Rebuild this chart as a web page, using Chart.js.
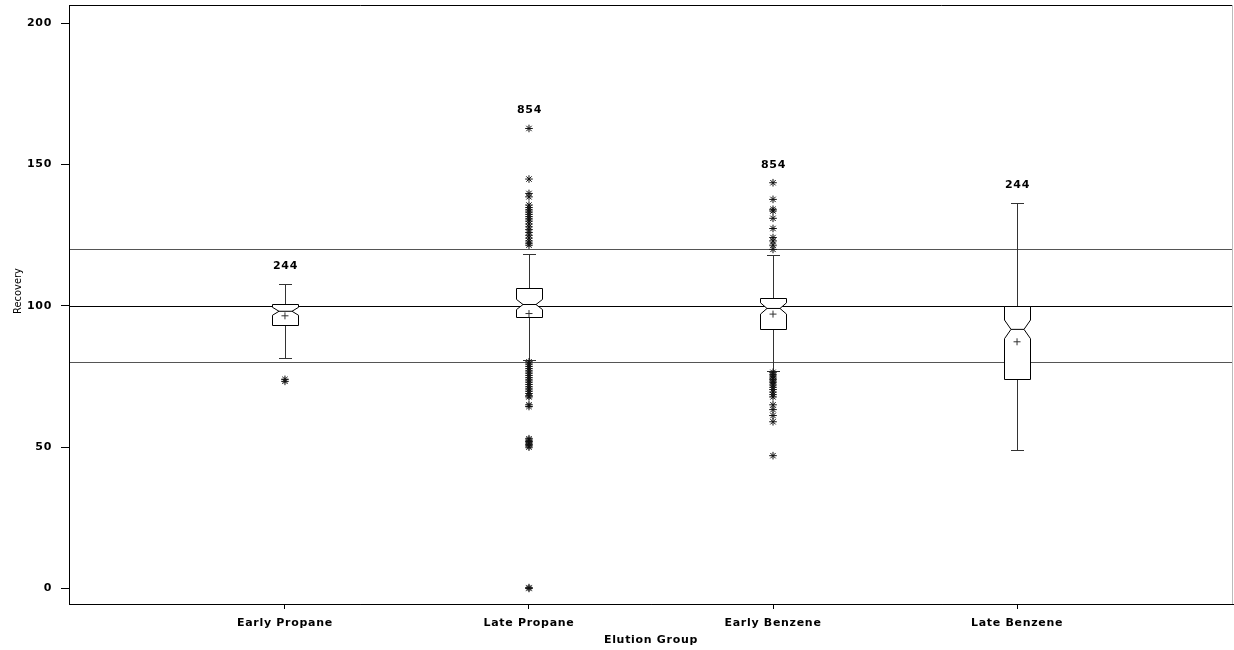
<!DOCTYPE html>
<html>
<head>
<meta charset="utf-8">
<script src="https://cdn.jsdelivr.net/npm/chart.js@4/dist/chart.umd.min.js"></script>
<style>
  html, body { margin: 0; padding: 0; background: #fff; }
  #wrap { width: 1234px; height: 650px; }
</style>
</head>
<body>
<div id="wrap"><canvas id="c" width="1234" height="650"></canvas></div>
<script>
// ---- data ----
const categories = ['Early Propane', 'Late Propane', 'Early Benzene', 'Late Benzene'];
const whiskerLow  = [81.7, 80.8, 76.8, 49.0];
const q1          = [93.1, 95.9, 92.0, 74.3];
const median      = [98.1, 100.5, 99.1, 91.7];
const q3          = [100.6, 106.2, 102.7, 100.0];
const whiskerHigh = [107.7, 118.3, 118.0, 136.3];
const notchHalf   = [1.4, 1.8, 2.0, 3.3];
const means       = [96.5, 97.3, 97.1, 87.3];
const countLabels = ['244', '854', '854', '244'];
const refLines    = [80, 100, 120];
const yTicks      = [0, 50, 100, 150, 200];

const outliersEarlyPropane = [73.3, 74.0];
const outliersLatePropane = [
  162.8, 144.9, 139.8, 138.6, 135.7, 134.8, 134.0, 133.2, 132.4, 131.6, 130.8, 130.0,
  129.0, 128.0, 127.0, 126.0, 125.0, 124.0, 123.0, 122.2, 121.5,
  80.2, 79.4, 78.6, 77.8, 77.0, 76.2, 75.4, 74.6, 73.8, 73.0, 72.2, 71.4, 70.6, 69.8,
  69.0, 68.2, 67.8, 65.0, 64.4,
  53.0, 52.5, 52.0, 51.5, 51.0, 50.5, 50.0, 0.3, 0.0
];
const outliersEarlyBenzene = [
  143.6, 137.7, 134.2, 133.6, 131.0, 127.4, 124.2, 123.0, 121.5, 120.0,
  76.5, 75.8, 75.2, 74.5, 74.0, 73.4, 72.8, 72.0, 71.2, 70.4, 69.5, 68.6, 67.8,
  65.0, 63.3, 61.2, 59.0, 47.0
];
const outliersLateBenzene = [];
const outlierGroups = [outliersEarlyPropane, outliersLatePropane, outliersEarlyBenzene, outliersLateBenzene];

// ---- build datasets ----
const outlierPoints = [];
outlierGroups.forEach((g, i) => g.forEach(v => outlierPoints.push({ x: i + 1, y: v })));
const meanPoints = means.map((v, i) => ({ x: i + 1, y: v }));

const FONT = '"DejaVu Sans", sans-serif';

const boxPlugin = {
  id: 'boxPlugin',
  beforeDraw(chart) {
    chart.ctx.letterSpacing = '0.7px';
  },
  beforeDatasetsDraw(chart) {
    const { ctx, chartArea: a, scales: { x, y } } = chart;
    ctx.save();
    ctx.letterSpacing = '0px';
    // reference lines
    refLines.forEach(v => {
      const py = Math.round(y.getPixelForValue(v)) + 0.5;
      ctx.beginPath();
      ctx.strokeStyle = v === 100 ? '#000' : '#555';
      ctx.lineWidth = 1;
      ctx.moveTo(a.left, py);
      ctx.lineTo(a.right, py);
      ctx.stroke();
    });
    // boxes
    const hw = 13, inset = 6.5, cap = 6.5;
    categories.forEach((c, i) => {
      const cx = Math.round(x.getPixelForValue(i + 1)) + 0.5;
      const yq1 = Math.round(y.getPixelForValue(q1[i])) + 0.5;
      const yq3 = Math.round(y.getPixelForValue(q3[i])) + 0.5;
      const ym = y.getPixelForValue(median[i]);
      const ynt = y.getPixelForValue(median[i] + notchHalf[i]);
      const ynb = y.getPixelForValue(median[i] - notchHalf[i]);
      const ylo = Math.round(y.getPixelForValue(whiskerLow[i])) + 0.5;
      const yhi = Math.round(y.getPixelForValue(whiskerHigh[i])) + 0.5;
      ctx.strokeStyle = '#333';
      ctx.lineWidth = 1;
      // whiskers
      ctx.beginPath();
      ctx.moveTo(cx, yq3); ctx.lineTo(cx, yhi);
      ctx.moveTo(cx - cap, yhi); ctx.lineTo(cx + cap, yhi);
      ctx.moveTo(cx, yq1); ctx.lineTo(cx, ylo);
      ctx.moveTo(cx - cap, ylo); ctx.lineTo(cx + cap, ylo);
      ctx.stroke();
      // notched box
      ctx.strokeStyle = '#000';
      ctx.fillStyle = '#fff';
      ctx.beginPath();
      ctx.moveTo(cx - hw, yq3);
      ctx.lineTo(cx + hw, yq3);
      ctx.lineTo(cx + hw, ynt);
      ctx.lineTo(cx + hw - inset, ym);
      ctx.lineTo(cx + hw, ynb);
      ctx.lineTo(cx + hw, yq1);
      ctx.lineTo(cx - hw, yq1);
      ctx.lineTo(cx - hw, ynb);
      ctx.lineTo(cx - hw + inset, ym);
      ctx.lineTo(cx - hw, ynt);
      ctx.closePath();
      ctx.fill();
      ctx.stroke();
      // median
      ctx.beginPath();
      ctx.moveTo(cx - hw + inset, ym);
      ctx.lineTo(cx + hw - inset, ym);
      ctx.stroke();
      // count label above highest mark
      const top = Math.max(whiskerHigh[i], ...outlierGroups[i]);
      const ly = y.getPixelForValue(top) - 18;
      ctx.letterSpacing = '0.7px';
      ctx.fillStyle = '#000';
      ctx.font = 'bold 11px ' + FONT;
      ctx.textAlign = 'center';
      ctx.textBaseline = 'middle';
      ctx.fillText(countLabels[i], cx, ly);
      ctx.letterSpacing = '0px';
    });
    ctx.restore();
  },
  afterDraw(chart) {
    const { ctx, chartArea: a } = chart;
    ctx.save();
    ctx.letterSpacing = '0px';
    // frame
    ctx.strokeStyle = '#000';
    ctx.lineWidth = 1;
    ctx.beginPath();
    ctx.moveTo(a.left + 0.5, a.bottom + 0.5);
    ctx.lineTo(a.left + 0.5, a.top + 0.5);
    ctx.lineTo(a.right - 0.5, a.top + 0.5);
    ctx.moveTo(a.left + 0.5, a.bottom + 0.5);
    ctx.lineTo(a.right, a.bottom + 0.5);
    ctx.stroke();
    ctx.strokeStyle = '#bbb';
    ctx.beginPath();
    ctx.moveTo(a.right - 0.5, a.top);
    ctx.lineTo(a.right - 0.5, a.bottom);
    ctx.stroke();
    // y title
    ctx.translate(18, 291);
    ctx.rotate(-Math.PI / 2);
    ctx.fillStyle = '#000';
    ctx.font = '11px "Liberation Sans Narrow", "DejaVu Sans Condensed", sans-serif';
    ctx.textAlign = 'center';
    ctx.textBaseline = 'middle';
    ctx.fillText('Recovery', 0, 0);
    ctx.restore();
  }
};

new Chart(document.getElementById('c'), {
  type: 'scatter',
  data: {
    datasets: [
      {
        label: 'outliers',
        data: outlierPoints,
        pointStyle: 'star',
        radius: 3.8,
        borderColor: '#111',
        borderWidth: 1,
        backgroundColor: '#111'
      },
      {
        label: 'means',
        data: meanPoints,
        pointStyle: 'cross',
        radius: 3.5,
        borderColor: '#333',
        borderWidth: 1
      }
    ]
  },
  options: {
    responsive: false,
    animation: false,
    devicePixelRatio: 1,
    layout: { autoPadding: false, padding: { top: 5, right: 1, left: 0, bottom: 0 } },
    plugins: { legend: { display: false }, tooltip: { enabled: false } },
    scales: {
      x: {
        type: 'linear',
        min: 0.115,
        max: 4.885,
        afterBuildTicks: s => { s.ticks = categories.map((c, i) => ({ value: i + 1 })); },
        afterFit: s => { s.height = 46; s.paddingLeft = 0; s.paddingRight = 0; },
        ticks: {
          callback: v => categories[v - 1] || '',
          color: '#000',
          padding: 8,
          maxRotation: 0,
          autoSkip: false,
          font: { family: FONT, size: 11, weight: 'bold' }
        },
        grid: { drawOnChartArea: false, drawTicks: true, tickLength: 5, color: '#000' },
        border: { display: true, color: '#000' },
        title: {
          display: true,
          text: 'Elution Group',
          color: '#000',
          padding: { top: 0, bottom: 3 },
          font: { family: FONT, size: 11, weight: 'bold' }
        }
      },
      y: {
        type: 'linear',
        min: -5.5,
        max: 206.5,
        afterBuildTicks: s => { s.ticks = yTicks.map(v => ({ value: v })); },
        afterFit: s => { s.width = 69; s.paddingTop = 0; s.paddingBottom = 0; },
        ticks: {
          color: '#000',
          padding: 9,
          font: { family: FONT, size: 11, weight: 'bold' }
        },
        grid: { drawOnChartArea: false, drawTicks: true, tickLength: 8, color: '#000' },
        border: { display: true, color: '#000' }
      }
    }
  },
  plugins: [boxPlugin]
});
</script>
</body>
</html>
